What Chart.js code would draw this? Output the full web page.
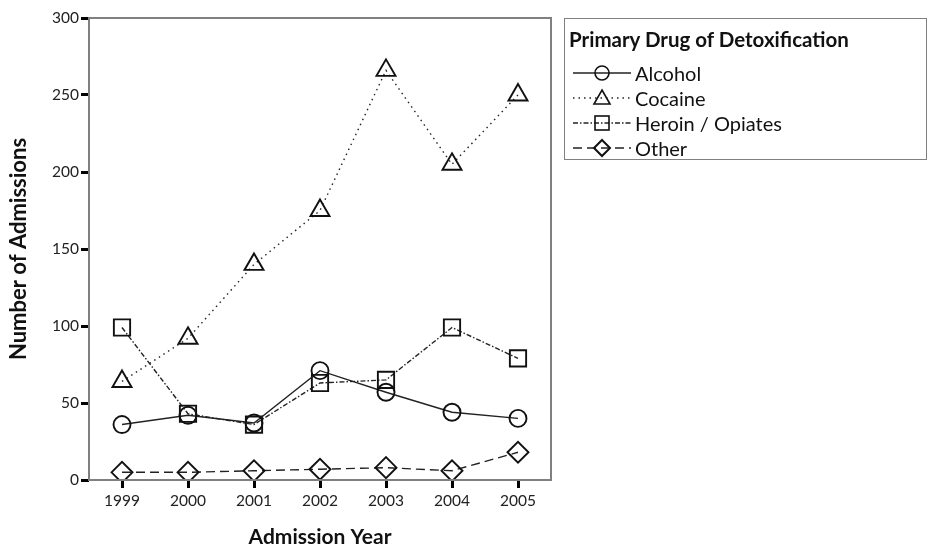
<!DOCTYPE html>
<html>
<head>
<meta charset="utf-8">
<script src="https://cdn.jsdelivr.net/npm/chart.js@4"></script>
<style>
  html, body { margin: 0; padding: 0; background: #fff; }
  #wrap { position: relative; width: 934px; height: 548px; }
  #legend { position: absolute; left: 564px; top: 18px; width: 363px; height: 142px;
    border: 1.5px solid #808080; box-sizing: border-box; font-family: Lato, "Open Sans", sans-serif; color: #111; }
  #legend .title { position: absolute; left: 4px; top: 8px; font-weight: bold; font-size: 20.5px; line-height: 24px; }
  #legend .row { position: absolute; left: 8px; height: 24px; display: flex; align-items: center; font-size: 20px; }
  #legend svg { margin-right: 4px; }
</style>
</head>
<body>
<div id="wrap">
  <canvas id="c" width="934" height="548"></canvas>
  <div id="legend"></div>
</div>
<script>
const years = ["1999", "2000", "2001", "2002", "2003", "2004", "2005"];
const alcohol = [36, 42, 37, 71, 57, 44, 40];
const cocaine = [64, 92, 140, 175, 266, 205, 250];
const heroin = [99, 43, 36, 63, 65, 99, 79];
const other = [5, 5, 6, 7, 8, 6, 18];
const yTicks = [0, 50, 100, 150, 200, 250, 300];
const seriesNames = ["Alcohol", "Cocaine", "Heroin / Opiates", "Other"];

const ink = '#222';
const styles = [
  { pointStyle: 'circle', pointRadius: 8.5, borderDash: [] },
  { pointStyle: 'triangle', pointRadius: 11, borderDash: [1.5, 4] },
  { pointStyle: 'rect', pointRadius: 11.5, borderDash: [5, 2, 1.5, 2] },
  { pointStyle: 'rectRot', pointRadius: 10.5, borderDash: [9, 5] }
];
const values = [alcohol, cocaine, heroin, other];

const datasets = values.map((v, i) => ({
  label: seriesNames[i],
  data: v,
  borderColor: ink,
  borderWidth: 1.4,
  borderDash: styles[i].borderDash,
  pointStyle: styles[i].pointStyle,
  pointRadius: styles[i].pointRadius,
  pointBorderWidth: 1.9,
  pointBorderColor: '#111',
  pointBackgroundColor: 'rgba(0,0,0,0)',
  fill: false,
  tension: 0
}));

const frame = {
  id: 'frame',
  afterDatasetsDraw(chart) {
    const a = chart.chartArea, ctx = chart.ctx;
    ctx.save();
    ctx.strokeStyle = '#808080';
    ctx.lineWidth = 2;
    ctx.strokeRect(a.left, a.top, a.right - a.left, a.bottom - a.top);
    ctx.restore();
  }
};

const font = 'Lato, "Open Sans", sans-serif';
new Chart(document.getElementById('c'), {
  type: 'line',
  data: { labels: years, datasets },
  plugins: [frame],
  options: {
    responsive: false,
    animation: false,
    layout: { padding: { top: 18, right: 383, left: 0, bottom: 0 } },
    plugins: { legend: { display: false }, tooltip: { enabled: false } },
    scales: {
      x: {
        offset: true,
        grid: { drawOnChartArea: false, drawTicks: true, tickLength: 8, tickColor: '#000', tickWidth: 3, offset: false },
        border: { display: false },
        ticks: { color: '#222', font: { family: font, size: 15.5 }, padding: 4, maxRotation: 0 },
        title: { display: true, text: 'Admission Year', color: '#111', font: { family: font, size: 21, weight: 'bold' }, padding: { top: 0, bottom: -2 } },
        afterFit(s) { s.height = 68; }
      },
      y: {
        min: 0, max: 300,
        afterBuildTicks(s) { s.ticks = yTicks.map(v => ({ value: v })); },
        grid: { drawOnChartArea: false, drawTicks: true, tickLength: 8, tickColor: '#000', tickWidth: 3 },
        border: { display: false },
        ticks: { color: '#222', font: { family: font, size: 15.5 }, padding: 2 },
        title: { display: true, text: 'Number of Admissions', color: '#111', font: { family: font, size: 22, weight: 'bold' }, padding: { top: 6, bottom: 0 } },
        afterFit(s) { s.width = 89; }
      }
    }
  }
});

// HTML legend with SVG symbols
const leg = document.getElementById('legend');
const t = document.createElement('div');
t.className = 'title';
t.textContent = 'Primary Drug of Detoxification';
leg.appendChild(t);
const shapes = [
  '<circle cx="29" cy="12" r="7" fill="none" stroke="#111" stroke-width="1.6"/>',
  '<polygon points="29,4 37,18 21,18" fill="none" stroke="#111" stroke-width="1.6"/>',
  '<rect x="22" y="5" width="14" height="14" fill="none" stroke="#111" stroke-width="1.6"/>',
  '<polygon points="29,4 37,12 29,20 21,12" fill="none" stroke="#111" stroke-width="2"/>'
];
seriesNames.forEach((name, i) => {
  const r = document.createElement('div');
  r.className = 'row';
  r.style.top = (42 + i * 25) + 'px';
  const dash = styles[i].borderDash.length ? styles[i].borderDash.join(' ') : 'none';
  r.innerHTML = '<svg width="58" height="24"><line x1="0" y1="12" x2="58" y2="12" stroke="#222" stroke-width="1.5" stroke-dasharray="' + dash + '"/>' + shapes[i] + '</svg>';
  const s = document.createElement('span');
  s.textContent = name;
  r.appendChild(s);
  leg.appendChild(r);
});
</script>
</body>
</html>
